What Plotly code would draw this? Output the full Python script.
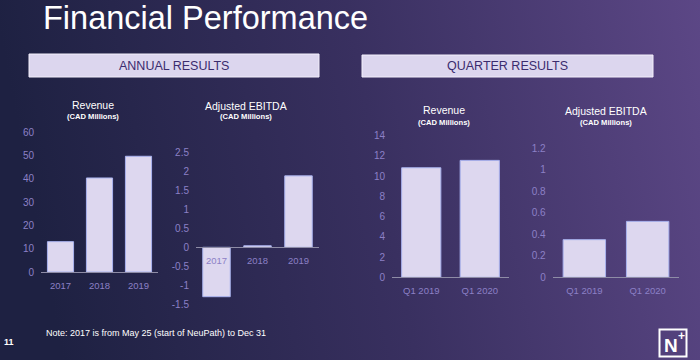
import base64
import plotly.graph_objects as go

W, H = 700, 360

# ---------------- data ----------------
annual_years = ["2017", "2018", "2019"]
annual_revenue = [13.0, 40.3, 49.6]
annual_ebitda = [-1.3, 0.04, 1.88]

quarters = ["Q1 2019", "Q1 2020"]
quarter_revenue = [10.83, 11.56]
quarter_ebitda = [0.35, 0.52]

rev_annual_ticks = [0, 10, 20, 30, 40, 50, 60]
ebitda_annual_ticks = [-1.5, -1, -0.5, 0, 0.5, 1, 1.5, 2, 2.5]
rev_quarter_ticks = [0, 2, 4, 6, 8, 10, 12, 14]
ebitda_quarter_ticks = [0, 0.2, 0.4, 0.6, 0.8, 1, 1.2]

# ---------------- styles ----------------
FONT = "Liberation Sans, Arial, Helvetica, sans-serif"
BAR_FILL = "#ddd7ef"
BAR_LINE = "#a9b2ee"
TICK_COL = "#8c80c6"
AXIS_COL = "#8e8ca6"


def px(x):
    return x / W


def py(y):
    return 1 - y / H


fig = go.Figure()

# background gradient as an svg image
svg = (
    f'<svg xmlns="http://www.w3.org/2000/svg" width="{W}" height="{H}">'
    '<defs><linearGradient id="g" x1="0" y1="0.1" x2="1" y2="0">'
    '<stop offset="0" stop-color="#1e2142"/>'
    '<stop offset="0.5" stop-color="#393060"/>'
    '<stop offset="1" stop-color="#5c4786"/>'
    '</linearGradient></defs>'
    f'<rect width="{W}" height="{H}" fill="url(#g)"/></svg>'
)
svg_uri = "data:image/svg+xml;base64," + base64.b64encode(svg.encode()).decode()

panels = [
    (annual_years, annual_revenue, rev_annual_ticks, (41, 158), (272, 132), (0, 60)),
    (annual_years, annual_ebitda, ebitda_annual_ticks, (196, 319), (304.3, 152.3), (-1.5, 2.5)),
    (quarters, quarter_revenue, rev_quarter_ticks, (392, 509), (277.3, 135.7), (0, 14)),
    (quarters, quarter_ebitda, ebitda_quarter_ticks, (552.7, 679.3), (277.3, 148.3), (0, 1.2)),
]

layout_axes = {}
for i, (cats, vals, ticks, xd, yd, yr) in enumerate(panels, start=1):
    xa = "x" if i == 1 else f"x{i}"
    ya = "y" if i == 1 else f"y{i}"
    fig.add_trace(go.Bar(
        x=cats, y=vals, xaxis=xa, yaxis=ya,
        marker=dict(color=BAR_FILL, line=dict(color=BAR_LINE, width=1)),
        showlegend=False, hoverinfo="x+y",
    ))
    ydom = [py(yd[0]), py(yd[1])]
    zero_pos = ydom[0] + (0 - yr[0]) / (yr[1] - yr[0]) * (ydom[1] - ydom[0])
    xkey = "xaxis" if i == 1 else f"xaxis{i}"
    ykey = "yaxis" if i == 1 else f"yaxis{i}"
    layout_axes[xkey] = dict(
        domain=[px(xd[0]), px(xd[1])],
        anchor="free", position=zero_pos,
        showline=True, linecolor=AXIS_COL, linewidth=1.3,
        showgrid=False, zeroline=False, ticks="",
        ticklabelstandoff=4,
        tickfont=dict(family=FONT, size=9.5, color=TICK_COL),
        fixedrange=True,
    )
    layout_axes[ykey] = dict(
        domain=ydom, range=list(yr), anchor=xa,
        tickvals=ticks, ticktext=[f"{t:g}" for t in ticks],
        showline=False, showgrid=False, zeroline=False, ticks="",
        ticklabelstandoff=6,
        tickfont=dict(family=FONT, size=10, color=TICK_COL),
        fixedrange=True,
    )

fig.update_layout(**layout_axes)

shapes = [
    dict(type="rect", xref="paper", yref="paper",
         x0=px(29), x1=px(319), y0=py(77), y1=py(54),
         fillcolor="#dcd6ee", line=dict(color="#f3effb", width=1), layer="below"),
    dict(type="rect", xref="paper", yref="paper",
         x0=px(362), x1=px(653), y0=py(77), y1=py(55),
         fillcolor="#dcd6ee", line=dict(color="#f3effb", width=1), layer="below"),
    dict(type="rect", xref="paper", yref="paper",
         x0=px(659.5), x1=px(686.5), y0=py(356.5), y1=py(329.5),
         fillcolor="rgba(0,0,0,0)", line=dict(color="white", width=2)),
]


def ann(text, x, y, size, color="white", bold=False, xanchor="center"):
    if bold:
        text = f"<b>{text}</b>"
    return dict(text=text, x=px(x), y=py(y), xref="paper", yref="paper",
                xanchor=xanchor, yanchor="middle", showarrow=False,
                font=dict(family=FONT, size=size, color=color))


annotations = [
    ann("Financial Performance", 41, 18, 32.5, xanchor="left"),
    ann("ANNUAL RESULTS", 174, 65.5, 12.5, color="#3b2c6e"),
    ann("QUARTER RESULTS", 507.5, 66, 12.5, color="#3b2c6e"),
    ann("Revenue", 93, 105, 10.5),
    ann("(CAD Millions)", 92.5, 117, 7.6, bold=True),
    ann("Adjusted EBITDA", 246, 106, 10.5),
    ann("(CAD Millions)", 246, 117, 7.6, bold=True),
    ann("Revenue", 444, 110, 10.5),
    ann("(CAD Millions)", 444, 122.3, 7.6, bold=True),
    ann("Adjusted EBITDA", 605.7, 111, 10.5),
    ann("(CAD Millions)", 605.7, 122.3, 7.6, bold=True),
    ann("Note: 2017 is from May 25 (start of NeuPath) to Dec 31", 44, 332.5, 9, xanchor="left"),
    ann("11", 2, 342, 9, bold=True, xanchor="left"),
    ann("N", 671, 345, 19, bold=True),
    ann("+", 681.5, 335.5, 12, bold=True),
]

fig.update_layout(
    width=W, height=H,
    margin=dict(l=0, r=0, t=0, b=0),
    paper_bgcolor="#2a2850", plot_bgcolor="rgba(0,0,0,0)",
    template="none",
    bargap=0.33,
    showlegend=False,
    shapes=shapes,
    annotations=annotations,
    images=[dict(source=svg_uri, xref="paper", yref="paper", x=0, y=1,
                 sizex=1, sizey=1, xanchor="left", yanchor="top",
                 sizing="stretch", layer="below")],
    font=dict(family=FONT),
)

fig.write_html(
    "out.html",
    config={"displayModeBar": False},
    post_script="document.body.style.margin='0';document.body.style.overflow='hidden';",
)
